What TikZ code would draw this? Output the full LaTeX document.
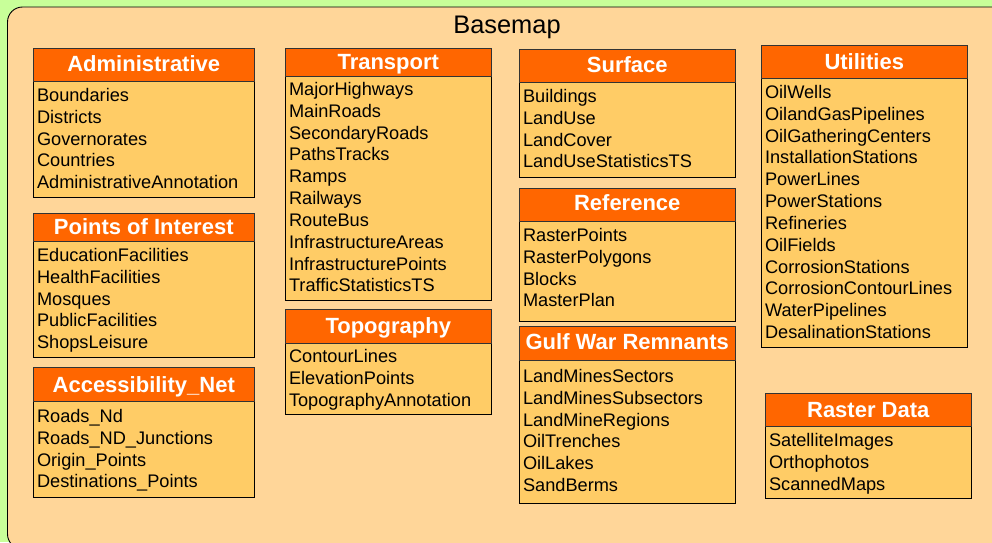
\documentclass[tikz,border=0pt]{standalone}
\usepackage{fontspec}
\setmainfont{Liberation Sans}
\definecolor{pagebg}{HTML}{C8FF99}
\definecolor{basebg}{HTML}{FFD699}
\definecolor{headbg}{HTML}{FF6600}
\definecolor{bodybg}{HTML}{FFCC66}
\tikzset{
  x=1pt,y=-1pt,
  headbox/.style={draw=black!80,line width=0.9pt,fill=headbg},
  bodybox/.style={draw=black,line width=0.9pt,fill=bodybg},
  itemtext/.style={anchor=base west,inner sep=0pt,outer sep=0pt,font=\fontsize{18.2}{20}\selectfont,text=black},
  headtext/.style={anchor=base,inner sep=0pt,outer sep=0pt,text=white},
}
% #1 id, #2 x1, #3 y1, #4 ysplit, #5 x2, #6 y2, #7 title, #8 title baseline y, #9 items
\newcommand{\umlpanel}[9]{%
  \path[bodybox] (#2,#4) rectangle (#5,#6);
  \path[headbox] (#2,#3) rectangle (#5,#4);
  \node[headtext,font=\fontsize{22}{22}\bfseries\selectfont] (#1-title) at ({(#2+#5)/2},#8) {#7};
  \foreach \itm [count=\i from 0] in {#9}{
    \node[itemtext] (#1-\i) at ({#2+4},{\pfirst+\i*21.82+6.5}) {\itm};
  }
}
\begin{document}
\begin{tikzpicture}
\useasboundingbox (0,0) rectangle (992,542);
\clip (0,0) rectangle (992,542);
\fill[pagebg] (0,0) rectangle (992,542);
\path[draw=black,line width=0.9pt,fill=basebg,rounded corners=15pt] (7.5,7) rectangle (1020,549);
\node[anchor=base,inner sep=0pt,font=\fontsize{25.4}{27}\selectfont] (basemap) at (507,33) {Basemap};
\def\pfirst{95}
\umlpanel{adm}{33}{48.5}{81}{254.5}{197.5}{Administrative}{71.8}{Boundaries,Districts,Governorates,Countries,AdministrativeAnnotation}
\def\pfirst{255}
\umlpanel{poi}{33}{213}{241}{254.5}{357.5}{Points of Interest}{234}{EducationFacilities,HealthFacilities,Mosques,PublicFacilities,ShopsLeisure}
\def\pfirst{416}
\umlpanel{acc}{33}{367.5}{401}{254.5}{497.5}{Accessibility\_Net}{392}{Roads\_Nd,Roads\_ND\_Junctions,Origin\_Points,Destinations\_Points}
\def\pfirst{89}
\umlpanel{tra}{285}{48.5}{76}{491.5}{300.5}{Transport}{69.5}{MajorHighways,MainRoads,SecondaryRoads,PathsTracks,Ramps,Railways,RouteBus,InfrastructureAreas,InfrastructurePoints,TrafficStatisticsTS}
\def\pfirst{356}
\umlpanel{top}{285}{309.5}{343}{491.5}{414.5}{Topography}{333.5}{ContourLines,ElevationPoints,TopographyAnnotation}
\def\pfirst{96}
\umlpanel{sur}{519}{49}{82}{735.5}{177.5}{Surface}{72.8}{Buildings,LandUse,LandCover,LandUseStatisticsTS}
\def\pfirst{235}
\umlpanel{ref}{519}{188}{221}{735.5}{321.5}{Reference}{210.8}{RasterPoints,RasterPolygons,Blocks,MasterPlan}
\def\pfirst{376}
\umlpanel{gul}{519}{326.5}{360}{735.5}{503.5}{Gulf War Remnants}{349.8}{LandMinesSectors,LandMinesSubsectors,LandMineRegions,OilTrenches,OilLakes,SandBerms}
\def\pfirst{92}
\umlpanel{uti}{761}{45.5}{78}{967.5}{347.5}{Utilities}{69}{OilWells,OilandGasPipelines,OilGatheringCenters,InstallationStations,PowerLines,PowerStations,Refineries,OilFields,CorrosionStations,CorrosionContourLines,WaterPipelines,DesalinationStations}
\def\pfirst{440}
\umlpanel{ras}{765}{393.5}{426}{971.5}{498.5}{Raster Data}{417}{SatelliteImages,Orthophotos,ScannedMaps}
\end{tikzpicture}
\end{document}
